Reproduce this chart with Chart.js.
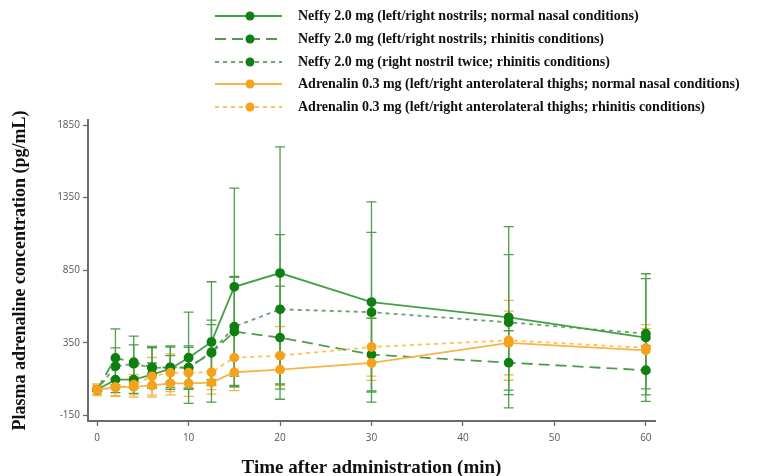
<!DOCTYPE html>
<html>
<head>
<meta charset="utf-8">
<script src="https://cdn.jsdelivr.net/npm/chart.js@4"></script>
<style>
  body { margin: 0; background: #fff; }
  #wrap { position: relative; width: 762px; height: 476px; }
  #chart { position: absolute; left: 0; top: 0; }
  #legend { position: absolute; left: 215px; top: 5px; font: bold 14px "Liberation Serif", "Times New Roman", serif; color: #111; }
  .row { display: flex; align-items: center; height: 22.7px; }
  .row svg { margin-right: 16px; }
</style>
</head>
<body>
<div id="wrap">
  <canvas id="chart" width="762" height="476"></canvas>
  <div id="legend"></div>
</div>
<script>
// sampling times (min)
const times = [0, 2, 4, 6, 8, 10, 12.5, 15, 20, 30, 45, 60];

// mean plasma adrenaline (pg/mL) and SD
const neffyNormal   = [25, 95, 95, 130, 170, 246, 355, 735, 830, 630, 525, 385];
const neffyNormalSd = [10, 90, 95, 80, 90, 315, 415, 680, 870, 690, 625, 440];

const neffyRhin   = [25, 245, 215, 180, 178, 178, 280, 426, 385, 268, 212, 160];
const neffyRhinSd = [10, 200, 180, 145, 150, 150, 225, 380, 355, 250, 220, 170];

const neffyTwice   = [25, 187, 205, 175, 180, 178, 285, 460, 580, 560, 490, 412];
const neffyTwiceSd = [10, 127, 130, 140, 140, 140, 190, 340, 515, 550, 467, 380];

const adrNormal   = [25, 45, 45, 55, 70, 70, 75, 146, 164, 210, 348, 297];
const adrNormalSd = [30, 60, 70, 80, 80, 90, 80, 100, 110, 120, 220, 150];

const adrRhin   = [25, 40, 60, 118, 143, 143, 146, 247, 260, 320, 366, 314];
const adrRhinSd = [40, 60, 70, 130, 130, 110, 120, 228, 200, 200, 275, 160];

const xTicks = [0, 10, 20, 30, 40, 50, 60];
const yTicks = [-150, 350, 850, 1350, 1850];

const labels = [
  "Neffy 2.0 mg (left/right nostrils; normal nasal conditions)",
  "Neffy 2.0 mg (left/right nostrils; rhinitis conditions)",
  "Neffy 2.0 mg (right nostril twice; rhinitis conditions)",
  "Adrenalin 0.3 mg (left/right anterolateral thighs; normal nasal conditions)",
  "Adrenalin 0.3 mg (left/right anterolateral thighs; rhinitis conditions)"
];

const GREEN_DOT = "#0f7f12";
const ORANGE_DOT = "#f5a21c";

const styles = [
  { line: "#45a045", dot: GREEN_DOT, dash: [], bar: "#4c9f4c" },
  { line: "#4c9c4c", dot: GREEN_DOT, dash: [11, 6], bar: "#4c9f4c" },
  { line: "#6e9f6e", dot: GREEN_DOT, dash: [4, 4], bar: "#4c9f4c" },
  { line: "#f7b548", dot: ORANGE_DOT, dash: [], bar: "#f6b445" },
  { line: "#f9c25c", dot: ORANGE_DOT, dash: [4, 4], bar: "#f6b445" }
];

const means = [neffyNormal, neffyRhin, neffyTwice, adrNormal, adrRhin];
const sds = [neffyNormalSd, neffyRhinSd, neffyTwiceSd, adrNormalSd, adrRhinSd];

function pts(arr) {
  return arr.map((v, i) => ({ x: times[i], y: v }));
}

// draw order: orange under green
const order = [3, 4, 0, 1, 2];
const datasets = order.map(k => ({
  label: labels[k],
  data: pts(means[k]),
  sd: sds[k],
  borderColor: styles[k].line,
  borderDash: styles[k].dash,
  borderWidth: 1.8,
  pointRadius: 4,
  pointBackgroundColor: styles[k].dot,
  pointBorderColor: styles[k].dot,
  barColor: styles[k].bar,
  tension: 0
}));

// mean +/- SD whiskers
const errorBars = {
  id: "errorBars",
  beforeDatasetsDraw(chart) {
    const ctx = chart.ctx;
    const xs = chart.scales.x, ys = chart.scales.y;
    chart.data.datasets.forEach(ds => {
      ctx.save();
      ctx.strokeStyle = ds.barColor;
      ctx.lineWidth = 1.3;
      ds.data.forEach((p, i) => {
        const x = xs.getPixelForValue(p.x);
        const top = ys.getPixelForValue(p.y + ds.sd[i]);
        const bot = ys.getPixelForValue(p.y - ds.sd[i]);
        ctx.beginPath();
        ctx.moveTo(x, top); ctx.lineTo(x, bot);
        ctx.moveTo(x - 5, top); ctx.lineTo(x + 5, top);
        ctx.moveTo(x - 5, bot); ctx.lineTo(x + 5, bot);
        ctx.stroke();
      });
      ctx.restore();
    });
  }
};

const axisColor = "#6b6b6b";
const serif = "'Liberation Serif', 'Times New Roman', serif";
const tickFont = { family: "'Open Sans', sans-serif", size: 10 };

new Chart(document.getElementById("chart"), {
  type: "line",
  data: { datasets },
  plugins: [errorBars],
  options: {
    responsive: false,
    animation: false,
    layout: { padding: { top: 120, right: 107, left: 6, bottom: 0 } },
    plugins: { legend: { display: false }, tooltip: { enabled: false } },
    scales: {
      x: {
        type: "linear",
        min: -1, max: 61,
        afterBuildTicks(s) { s.ticks = xTicks.map(v => ({ value: v })); },
        afterFit(s) { s.height = 55; },
        grid: { drawOnChartArea: false, drawTicks: true, tickLength: 5, tickColor: axisColor, tickWidth: 1.3 },
        border: { color: axisColor, width: 2 },
        ticks: { color: "#555", font: tickFont, padding: 6, callback: v => String(v) },
        title: { display: true, text: "Time after administration (min)", color: "#111",
                 font: { family: serif, size: 19, weight: "bold" }, padding: { top: 0, bottom: -3 } }
      },
      y: {
        min: -190, max: 1885,
        afterBuildTicks(s) { s.ticks = yTicks.map(v => ({ value: v })); },
        afterFit(s) { s.width = 82; },
        grid: { drawOnChartArea: false, drawTicks: true, tickLength: 5, tickColor: axisColor, tickWidth: 1.3 },
        border: { color: axisColor, width: 2 },
        ticks: { color: "#555", font: tickFont, padding: 3, callback: v => String(v) },
        title: { display: true, text: "Plasma adrenaline concentration (pg/mL)", color: "#111",
                 font: { family: serif, size: 18, weight: "bold" }, padding: { bottom: 6 } }
      }
    }
  }
});

// legend: line sample with a dot, then bold label
const legend = document.getElementById("legend");
labels.forEach((txt, k) => {
  const st = styles[k];
  const row = document.createElement("div");
  row.className = "row";
  row.innerHTML =
    `<svg width="67" height="14"><line x1="0" y1="7" x2="67" y2="7" stroke="${st.line}" stroke-width="2"
      stroke-dasharray="${st.dash.length ? st.dash.join(' ') : 'none'}"/>
      <circle cx="35" cy="7" r="4.5" fill="${st.dot}"/></svg><span>${txt}</span>`;
  legend.appendChild(row);
});
</script>
</body>
</html>
